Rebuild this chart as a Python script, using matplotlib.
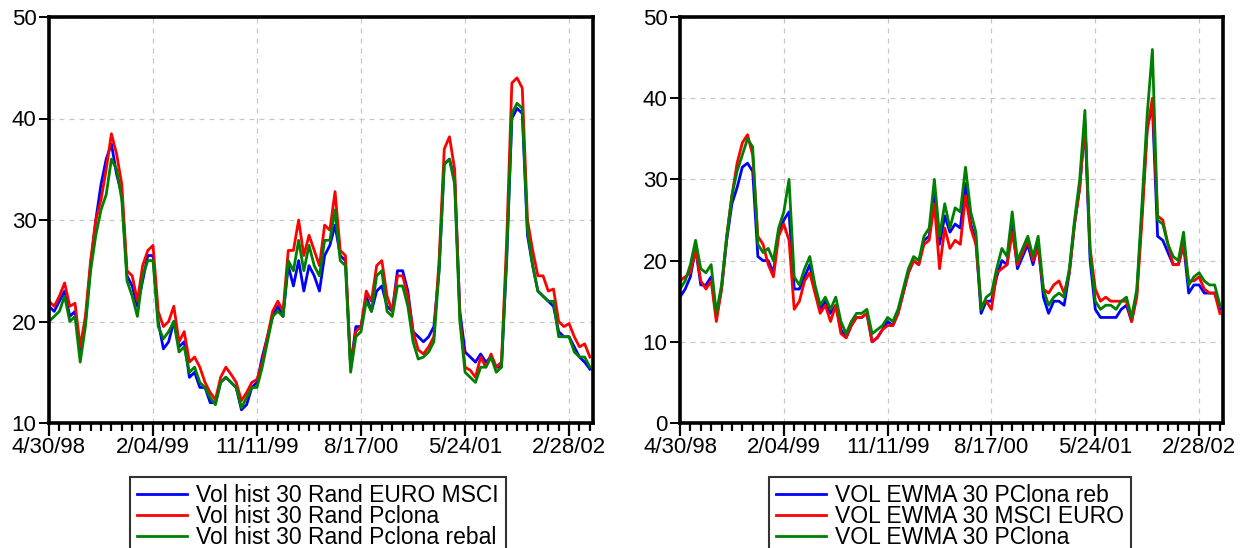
import matplotlib
matplotlib.use("Agg")
import matplotlib.pyplot as plt
from matplotlib.ticker import MultipleLocator, FixedLocator
import numpy as np

plt.rcParams['font.family'] = ['Liberation Sans', 'DejaVu Sans']

# observation index (5-day weekly data starting 4/30/98), sampled every 10 obs
obs = list(range(0, 1041, 10))
tick_obs = [0, 200, 400, 600, 800, 1000]
tick_labels = ["4/30/98", "2/04/99", "11/11/99", "8/17/00", "5/24/01", "2/28/02"]

# ---- left panel: historical 30-day volatility ----
left_names = ["Vol hist 30 Rand EURO MSCI", "Vol hist 30 Rand Pclona", "Vol hist 30 Rand Pclona rebal"]
left_euro_msci = [
    21.5, 21.0, 22.0, 23.0, 20.5, 21.0, 17.0, 20.0, 25.5, 30.0,
    33.5, 36.0, 37.5, 34.5, 32.5, 24.5, 23.5, 21.5, 24.0, 26.5,
    26.5, 20.0, 17.3, 18.0, 20.0, 17.5, 18.0, 14.5, 15.0, 13.5,
    13.5, 12.0, 12.0, 14.0, 14.5, 14.0, 13.5, 11.3, 11.8, 13.5,
    14.0, 16.5, 18.5, 20.5, 21.5, 20.5, 25.5, 23.5, 26.0, 23.0,
    25.5, 24.5, 23.0, 26.5, 27.5, 29.5, 26.5, 26.0, 15.5, 19.5,
    19.5, 22.5, 21.0, 23.0, 23.5, 21.5, 21.0, 25.0, 25.0, 23.0,
    19.0, 18.5, 18.0, 18.5, 19.5, 25.0, 35.5, 36.0, 34.0, 21.0,
    17.0, 16.5, 16.0, 16.8, 16.0, 16.5, 15.5, 15.5, 26.0, 40.0,
    41.0, 40.5, 28.5, 25.5, 23.0, 22.5, 22.0, 21.5, 19.0, 18.5,
    18.5, 17.5, 16.5, 16.0, 15.3]
left_pclona = [
    22.0, 21.5, 22.5, 23.8, 21.5, 21.8, 17.5, 20.5, 26.0, 30.0,
    32.0, 35.0, 38.5, 36.5, 33.5, 25.0, 24.5, 22.0, 25.5, 27.0,
    27.5, 21.0, 19.5, 20.0, 21.5, 18.0, 19.0, 16.0, 16.5, 15.5,
    14.0, 13.0, 12.3, 14.5, 15.5, 14.8, 14.0, 12.2, 13.0, 14.0,
    14.3, 16.0, 18.5, 21.0, 22.0, 21.0, 27.0, 27.0, 30.0, 26.5,
    28.5, 27.0, 25.5, 29.5, 29.0, 32.8, 27.0, 26.5, 15.5, 19.0,
    19.5, 23.0, 22.0, 25.5, 26.0, 22.5, 21.0, 24.5, 24.5, 22.5,
    19.0, 17.2, 16.8, 17.5, 18.5, 26.0, 37.0, 38.2, 35.0, 20.5,
    15.5, 15.2, 14.5, 16.5, 15.5, 16.8, 15.5, 16.0, 28.0, 43.5,
    44.0, 43.0, 30.0, 27.0, 24.5, 24.5, 23.0, 23.2, 20.0, 19.5,
    19.8, 18.5, 17.5, 17.8, 16.5]
left_pclona_rebal = [
    20.0, 20.5, 21.0, 22.5, 20.0, 20.5, 16.0, 19.5, 25.0, 28.5,
    31.0, 32.5, 36.0, 35.0, 32.0, 24.0, 22.5, 20.5, 24.5, 26.0,
    26.0, 19.5, 18.3, 19.0, 20.0, 17.0, 17.5, 15.0, 15.5, 14.0,
    13.5, 12.5, 11.8, 14.0, 14.5, 14.0, 13.5, 11.5, 12.5, 13.5,
    13.5, 15.5, 18.0, 20.5, 21.0, 20.5, 26.0, 25.0, 28.0, 25.0,
    27.5, 25.5, 24.5, 28.0, 28.0, 31.0, 26.0, 25.5, 15.0, 18.5,
    19.0, 22.0, 21.0, 24.5, 25.0, 21.0, 20.5, 23.5, 23.5, 21.5,
    18.0, 16.3, 16.5, 17.0, 18.0, 25.0, 35.5, 36.0, 33.5, 20.0,
    15.0, 14.5, 14.0, 15.5, 15.5, 16.5, 15.0, 15.5, 26.5, 40.5,
    41.5, 41.0, 29.0, 25.5, 23.0, 22.5, 22.0, 22.0, 18.5, 18.5,
    18.5, 17.0, 16.5, 16.5, 15.5]

# ---- right panel: EWMA 30 volatility ----
right_names = ["VOL EWMA 30 PClona reb", "VOL EWMA 30 MSCI EURO", "VOL EWMA 30 PClona"]
right_pclona_reb = [
    15.5, 16.5, 18.0, 21.5, 17.0, 17.0, 18.0, 13.0, 16.5, 22.5,
    27.0, 29.0, 31.5, 32.0, 31.0, 20.5, 20.0, 20.0, 18.5, 23.5,
    25.0, 26.0, 16.5, 16.5, 18.0, 19.5, 16.5, 14.0, 15.0, 13.5,
    14.5, 11.5, 10.5, 12.0, 13.0, 13.0, 13.5, 10.0, 10.5, 11.5,
    12.5, 12.0, 13.5, 16.0, 18.5, 20.0, 19.5, 22.5, 23.0, 28.5,
    22.0, 25.5, 23.5, 24.5, 24.0, 29.5, 24.5, 22.5, 13.5, 15.0,
    15.0, 18.0, 20.0, 19.5, 24.5, 19.0, 20.5, 22.0, 19.5, 22.0,
    15.5, 13.5, 15.0, 15.0, 14.5, 18.5, 24.5, 29.0, 37.0, 20.0,
    14.0, 13.0, 13.0, 13.0, 13.0, 14.0, 14.5, 12.5, 16.0, 26.0,
    36.5, 39.0, 23.0, 22.5, 21.0, 19.5, 19.5, 22.0, 16.0, 17.0,
    17.0, 16.0, 16.0, 16.0, 14.0]
right_msci_euro = [
    17.5, 18.0, 18.5, 21.5, 17.5, 16.5, 17.5, 12.5, 16.5, 23.0,
    28.0, 32.0, 34.5, 35.5, 33.0, 23.0, 22.0, 19.5, 18.0, 23.0,
    24.5, 22.5, 14.0, 15.0, 17.5, 18.5, 16.0, 13.5, 14.5, 12.5,
    14.5, 11.0, 10.5, 12.0, 13.0, 13.0, 13.5, 10.0, 10.5, 11.5,
    12.0, 12.0, 13.5, 16.0, 18.5, 20.0, 19.5, 22.0, 22.5, 27.0,
    19.0, 24.0, 21.5, 22.5, 22.0, 28.0, 24.0, 22.0, 14.5, 15.0,
    14.0, 18.5, 19.0, 19.5, 23.5, 19.5, 21.0, 22.5, 20.0, 21.5,
    16.5, 16.0, 17.0, 17.5, 16.0, 18.5, 24.5, 29.0, 37.0, 21.5,
    16.5, 15.0, 15.5, 15.0, 15.0, 15.0, 15.0, 12.5, 15.5, 25.0,
    36.0, 40.0, 25.5, 25.0, 22.0, 19.5, 19.5, 22.0, 17.5, 17.5,
    18.0, 16.5, 16.0, 16.0, 13.5]
right_pclona = [
    16.5, 17.5, 19.5, 22.5, 19.0, 18.5, 19.5, 13.5, 17.0, 23.0,
    28.0, 31.0, 33.0, 35.0, 34.0, 22.0, 21.0, 21.5, 20.0, 24.0,
    26.0, 30.0, 18.0, 17.0, 19.0, 20.5, 17.0, 14.5, 15.5, 14.0,
    15.5, 12.5, 11.0, 12.5, 13.5, 13.5, 14.0, 11.0, 11.5, 12.0,
    13.0, 12.5, 14.0, 16.5, 19.0, 20.5, 20.0, 23.0, 24.0, 30.0,
    23.0, 27.0, 24.0, 26.5, 26.0, 31.5, 26.0, 23.5, 14.0, 15.5,
    16.0, 19.0, 21.5, 20.5, 26.0, 20.0, 21.5, 23.0, 20.5, 23.0,
    16.5, 14.5, 15.5, 16.0, 15.5, 19.0, 25.0, 30.0, 38.5, 21.0,
    15.0, 14.0, 14.5, 14.5, 14.0, 15.0, 15.5, 13.0, 16.5, 27.0,
    38.0, 46.0, 25.0, 24.5, 22.0, 20.5, 20.0, 23.5, 17.0, 18.0,
    18.5, 17.5, 17.0, 17.0, 14.5]

colors = ["#0000FF", "#FF0000", "#008000"]
W, H = 1241, 548
fig = plt.figure(figsize=(W / 100, H / 100), dpi=100)


def make_axes(x0, x1, y0, y1):
    return fig.add_axes([x0 / W, 1 - y1 / H, (x1 - x0) / W, (y1 - y0) / H])


def style(ax, ylim, yticks):
    ax.set_xlim(0, 1046)
    ax.set_ylim(*ylim)
    ax.set_yticks(yticks)
    ax.xaxis.set_major_locator(FixedLocator(tick_obs))
    ax.set_xticklabels(tick_labels)
    ax.xaxis.set_minor_locator(MultipleLocator(20))
    ax.grid(True, which='major', color='#c8c8c8', linestyle=(0, (4, 4)), linewidth=0.9)
    for s in ax.spines.values():
        s.set_linewidth(2.6)
        s.set_color('black')
    ax.tick_params(axis='x', which='major', direction='out', length=9, width=1.6,
                   labelsize=16, pad=1, top=False)
    ax.tick_params(axis='x', which='minor', direction='out', length=6, width=1.6, top=False)
    ax.tick_params(axis='y', which='major', direction='out', length=7, width=1.4,
                   labelsize=16, pad=2, right=False)
    ax.set_axisbelow(True)


axL = make_axes(49, 593, 17, 423)
axR = make_axes(680, 1223, 17, 423)

linesL = []
for vals, c, n in zip([left_euro_msci, left_pclona, left_pclona_rebal], colors, left_names):
    ln, = axL.plot(obs, vals, color=c, linewidth=2.0, label=n)
    linesL.append(ln)
linesR = []
for vals, c, n in zip([right_pclona_reb, right_msci_euro, right_pclona], colors, right_names):
    ln, = axR.plot(obs, vals, color=c, linewidth=2.0, label=n)
    linesR.append(ln)

style(axL, (10, 50), [10, 20, 30, 40, 50])
style(axR, (0, 50), [0, 10, 20, 30, 40, 50])

for lines, names, x0 in [(linesL, left_names, 130), (linesR, right_names, 769)]:
    leg = fig.legend(lines, names, loc='upper left',
                     bbox_to_anchor=(x0 / W, 1 - 477 / H),
                     bbox_transform=fig.transFigure,
                     fontsize=16.5, frameon=True, fancybox=False, shadow=False,
                     handlelength=2.2, handletextpad=0.4, labelspacing=-0.08,
                     borderpad=0.3, borderaxespad=0)
    leg.get_frame().set_edgecolor('black')
    leg.get_frame().set_linewidth(1.5)
    for h in leg.get_lines():
        h.set_linewidth(2.0)

fig.savefig("out.png", dpi=100)
